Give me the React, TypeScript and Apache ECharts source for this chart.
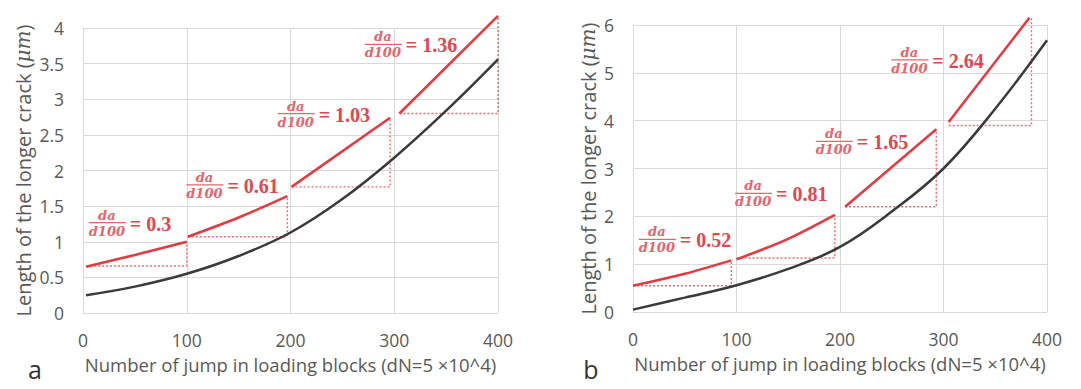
import React, { useEffect, useRef } from "react";
import * as echarts from "echarts";

// ---------- Panel a ----------
const xCurveA = [3, 50, 100, 150, 200, 250, 300, 350, 400];
const crackA = [0.25, 0.37, 0.55, 0.8, 1.13, 1.6, 2.18, 2.84, 3.56];
const redSegA = [
  [[3, 0.65], [50, 0.815], [100, 1.0]],
  [[101, 1.07], [150, 1.34], [197, 1.64]],
  [[201, 1.77], [296, 2.74]],
  [[305, 2.8], [400, 4.17]],
];
const triA = [
  [[3, 0.66], [100, 0.66], [100, 1.0]],
  [[101, 1.07], [197, 1.07], [197, 1.64]],
  [[201, 1.77], [296, 1.77], [296, 2.74]],
  [[305, 2.8], [400, 2.8], [400, 4.17]],
];
const annXA = [23, 117, 205, 289];
const annYA = [1.27, 1.8, 2.8, 3.77];
const annTextA = ["= 0.3", "= 0.61", "= 1.03", "= 1.36"];

// ---------- Panel b ----------
const xCurveB = [0, 50, 100, 150, 200, 250, 300, 350, 400];
const crackB = [0.05, 0.3, 0.56, 0.9, 1.36, 2.1, 3.0, 4.25, 5.68];
const redSegB = [
  [[0, 0.55], [50, 0.8], [95, 1.08]],
  [[100, 1.1], [150, 1.53], [195, 2.03]],
  [[205, 2.2], [293, 3.82]],
  [[305, 3.97], [383, 6.15]],
];
const triB = [
  [[0, 0.55], [95, 0.55], [95, 1.08]],
  [[100, 1.13], [195, 1.13], [195, 2.03]],
  [[205, 2.2], [293, 2.2], [293, 3.82]],
  [[305, 3.9], [385, 3.9], [385, 6.15]],
];
const annXB = [23, 116, 194, 267];
const annYB = [1.52, 2.48, 3.57, 5.27];
const annTextB = ["= 0.52", "= 0.81", "= 1.65", "= 2.64"];

const yMaxA = 4, yIntA = 0.5;
const yMaxB = 6, yIntB = 1;

const RED = "#e5393f";
const DOT = "#ec6a70";
const RED_TEXT = "#e4464e";
const FRAC = "#e9646c";
const GREY = "#595959";
const FONT = "'Open Sans', 'Noto Sans', sans-serif";
const SERIF = "'DejaVu Serif', 'Liberation Serif', serif";
const SERIF2 = "'Liberation Serif', 'DejaVu Serif', serif";

export default function App() {
  const ref = useRef<HTMLDivElement>(null);
  useEffect(() => {
    const chart = echarts.init(ref.current!, null, { renderer: "svg" });

    const xAxisBase = (gi: number) => ({
      type: "value",
      gridIndex: gi,
      min: 0,
      max: 400,
      interval: 100,
      axisLine: { show: false },
      axisTick: { show: false },
      splitLine: { show: true, lineStyle: { color: "#d9d9d9", width: 1 } },
      axisLabel: { color: GREY, fontSize: 17.5, fontFamily: FONT, margin: 18 },
      name: "Number of jump in loading blocks (dN=5 ×10^4)",
      nameLocation: "middle",
      nameGap: 42,
      nameTextStyle: { color: GREY, fontSize: 18.5, fontFamily: FONT },
    });
    const yAxisBase = (gi: number, max: number, interval: number, gap: number) => ({
      type: "value",
      gridIndex: gi,
      min: 0,
      max,
      interval,
      axisLine: { show: false },
      axisTick: { show: false },
      splitLine: { show: true, lineStyle: { color: "#d9d9d9", width: 1 } },
      axisLabel: { color: GREY, fontSize: 17.5, fontFamily: FONT, margin: 19 },
      name: "Length of the longer crack ({i|μm})",
      nameLocation: "middle",
      nameGap: gap,
      nameTextStyle: {
        color: GREY,
        fontSize: 20,
        fontFamily: FONT,
        rich: { i: { fontStyle: "italic", fontSize: 20, color: GREY, fontFamily: SERIF } },
      },
    });

    const series: any[] = [];
    const addPanel = (gi: number, xs: number[], ys: number[], segs: number[][][], tris: number[][][]) => {
      series.push({
        type: "line",
        xAxisIndex: gi,
        yAxisIndex: gi,
        data: xs.map((x, i) => [x, ys[i]]),
        smooth: 0.4,
        showSymbol: false,
        color: "#3a3a3a",
        lineStyle: { color: "#3a3a3a", width: 2.5 },
        z: 3,
      });
      segs.forEach((s) =>
        series.push({
          type: "line",
          xAxisIndex: gi,
          yAxisIndex: gi,
          data: s,
          smooth: 0.3,
          showSymbol: false,
          clip: false,
          color: RED,
          lineStyle: { color: RED, width: 2.5 },
          z: 4,
        })
      );
      tris.forEach((t) =>
        series.push({
          type: "line",
          xAxisIndex: gi,
          yAxisIndex: gi,
          data: t,
          showSymbol: false,
          clip: false,
          color: DOT,
          itemStyle: { color: DOT },
          lineStyle: { color: DOT, width: 1.4, type: [2, 2] },
          z: 2,
        })
      );
    };
    addPanel(0, xCurveA, crackA, redSegA, triA);
    addPanel(1, xCurveB, crackB, redSegB, triB);

    chart.setOption({
      animation: false,
      grid: [
        { left: 83, right: 1081 - 498, top: 28, bottom: 389 - 313 },
        { left: 633, right: 1081 - 1047, top: 25, bottom: 389 - 312 },
      ],
      xAxis: [xAxisBase(0), xAxisBase(1)],
      yAxis: [yAxisBase(0, yMaxA, yIntA, 50), yAxisBase(1, yMaxB, yIntB, 35)],
      series,
    });

    const graphics: any[] = [];
    const addAnn = (gi: number, xs: number[], ys: number[], texts: string[]) => {
      xs.forEach((x, i) => {
        const p = chart.convertToPixel({ gridIndex: gi }, [x, ys[i]]) as number[];
        graphics.push({
          type: "group",
          x: p[0],
          y: p[1],
          children: [
            {
              type: "text",
              x: 0,
              y: -1,
              style: {
                text: "da",
                fill: FRAC,
                font: `italic bold 13px ${SERIF}`,
                textAlign: "center",
                textVerticalAlign: "bottom",
              },
            },
            { type: "rect", shape: { x: -18, y: -0.6, width: 37, height: 1.3 }, style: { fill: FRAC } },
            {
              type: "text",
              x: 0,
              y: 2,
              style: {
                text: "d100",
                fill: FRAC,
                font: `italic bold 13px ${SERIF}`,
                textAlign: "center",
                textVerticalAlign: "top",
              },
            },
            {
              type: "text",
              x: 23,
              y: 1,
              style: {
                text: texts[i],
                fill: RED_TEXT,
                font: `bold 20px ${SERIF2}`,
                textAlign: "left",
                textVerticalAlign: "middle",
              },
            },
          ],
        });
      });
    };
    addAnn(0, annXA, annYA, annTextA);
    addAnn(1, annXB, annYB, annTextB);

    graphics.push(
      { type: "text", x: 35, y: 369, style: { text: "a", fill: "#333", font: `25px ${FONT}`, textAlign: "center", textVerticalAlign: "middle" } },
      { type: "text", x: 591, y: 369, style: { text: "b", fill: "#333", font: `25px ${FONT}`, textAlign: "center", textVerticalAlign: "middle" } }
    );
    chart.setOption({ graphic: graphics });

    return () => chart.dispose();
  }, []);
  return <div ref={ref} style={{ position: "fixed", left: 0, top: 0, width: 1081, height: 389, background: "#fff" }} />;
}
